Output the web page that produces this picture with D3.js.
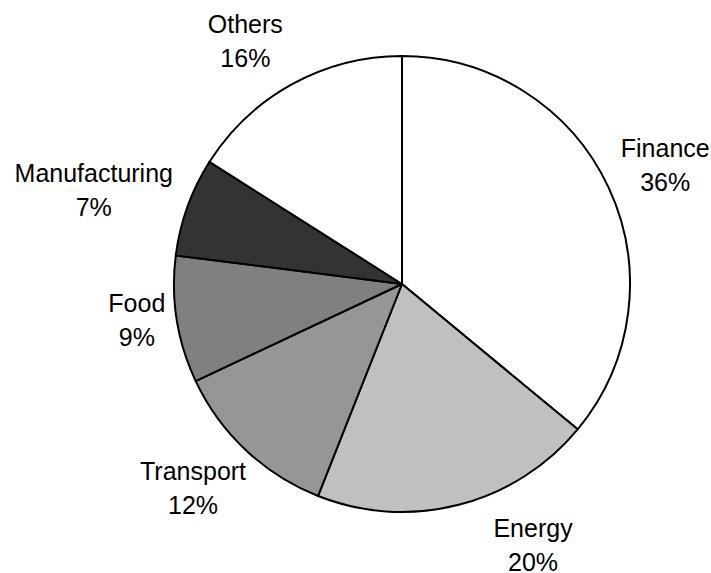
<!DOCTYPE html>
<meta charset="utf-8">
<style>
  body { margin: 0; background: #fff; }
  text { font-family: "Liberation Sans", Arial, sans-serif; font-size: 25px; fill: #000; }
</style>
<script src="https://d3js.org/d3.v7.min.js"></script>
<div id="chart"></div>
<script>
// data, clockwise from 12 o'clock
var sectors = ["Finance", "Energy", "Transport", "Food", "Manufacturing", "Others"];
var shares = [36, 20, 12, 9, 7, 16];
var fills = ["#ffffff", "#c0c0c0", "#969696", "#808080", "#333333", "#ffffff"];

var width = 711, height = 573;
var cx = 402, cy = 284, radius = 228;

// small hand nudges for the label boxes (Excel places them a bit freely)
var labelNudge = [[4, -4], [61, 0], [-7, 8], [2, -6], [-6, -3], [-22, -7]];

var svg = d3.select("#chart").append("svg")
  .attr("width", width)
  .attr("height", height);

var g = svg.append("g").attr("transform", "translate(" + cx + "," + cy + ")");

var rows = sectors.map(function(s, i) { return {name: s, value: shares[i], i: i}; });

var pie = d3.pie().sort(null).value(function(d) { return d.value; });
var arc = d3.arc().innerRadius(0).outerRadius(radius);
var arcs = pie(rows);

g.selectAll("path.slice")
  .data(arcs)
  .enter().append("path")
  .attr("class", "slice")
  .attr("d", arc)
  .attr("fill", function(d) { return fills[d.data.i]; })
  .attr("stroke", "#000")
  .attr("stroke-width", 2)
  .attr("stroke-linejoin", "round");

// labels: two lines, name and percent, placed just outside the rim
var lineGap = 34, boxH = 54, gap = 14;
var labels = g.selectAll("g.lab")
  .data(arcs)
  .enter().append("g")
  .attr("class", "lab");

labels.append("text")
  .attr("text-anchor", "middle")
  .text(function(d) { return d.data.name; });
labels.append("text")
  .attr("text-anchor", "middle")
  .attr("y", lineGap)
  .text(function(d) { return d.data.value + "%"; });

labels.each(function(d) {
  var sel = d3.select(this);
  var w = sel.select("text").node().getComputedTextLength();
  var a = (d.startAngle + d.endAngle) / 2;
  var s = Math.sin(a), c = Math.cos(a);
  var ax = s * (radius + gap), ay = -c * (radius + gap);
  var bx = ax + s * w / 2 + labelNudge[d.data.i][0];
  var by = ay - c * boxH / 2 + labelNudge[d.data.i][1];
  // block visual centre is ~8px below the first baseline
  sel.attr("transform", "translate(" + bx + "," + (by - 8) + ")");
});
</script>
